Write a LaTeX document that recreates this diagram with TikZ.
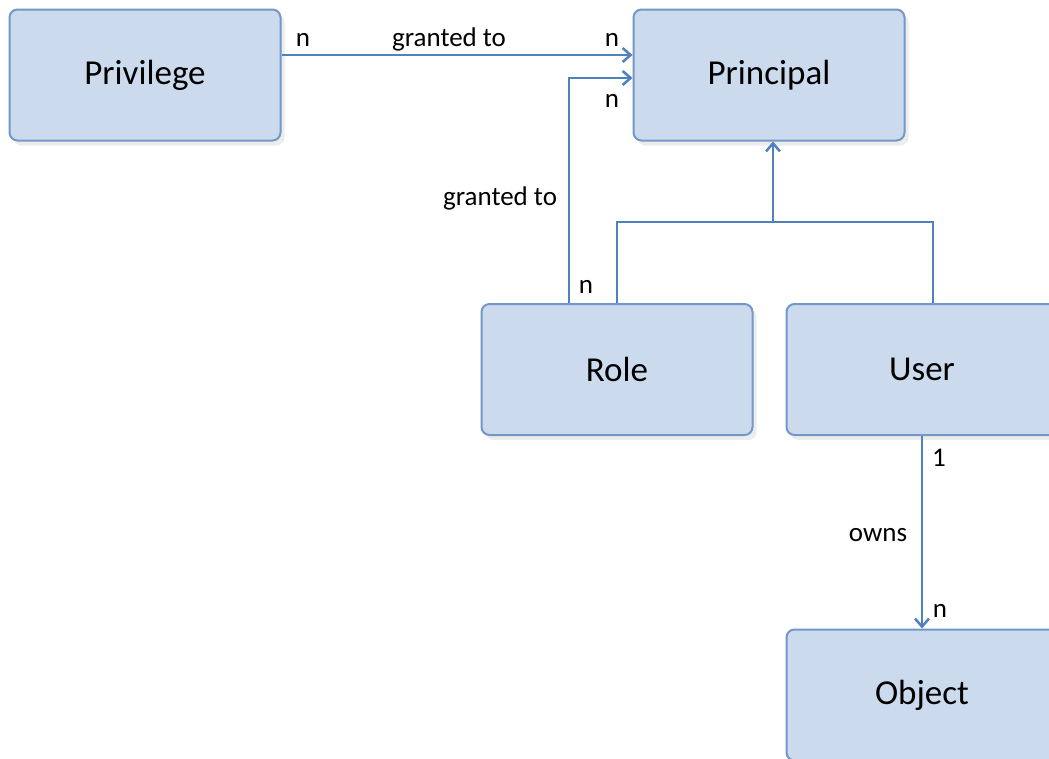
\documentclass[tikz,border=0pt]{standalone}
\usepackage{fontspec}
\setmainfont{Carlito}
\usetikzlibrary{arrows.meta,shadows}
\definecolor{boxfill}{HTML}{CCDAEE}
\definecolor{boxline}{HTML}{7397C9}
\definecolor{linkline}{HTML}{4F81BD}
\tikzset{entity/.style={draw=boxline, line width=2pt, fill=boxfill,
    rounded corners=8pt, minimum width=271pt, minimum height=131pt,
    font=\fontsize{35}{40}\selectfont,
    drop shadow={opacity=0.15, shadow xshift=4pt, shadow yshift=-5pt}},
  link/.style={draw=linkline, line width=2.5pt},
  card/.style={font=\fontsize{27}{30}\selectfont}}

\begin{document}
\begin{tikzpicture}[x=1pt, y=-1pt, >={Straight Barb[length=8pt, width=14pt, line width=2.5pt]}]
  \useasboundingbox (0,0) rectangle (1049,758);
  \node[entity] (privilege) at (145,75) {Privilege};
  \node[entity] (principal) at (769,75) {Principal};
  \node[entity] (role) at (617,369.5) {Role};
  \node[entity] (user) at (922,369.5) {User};
  \node[entity] (object) at (922,695) {Object};
  % granted to
  \draw[link,->] (privilege.east |- 0,55) -- (principal.west |- 0,55);
  \node[card] at (303,40) {n};
  \node[card] at (449,39) {granted to};
  \node[card] at (612,40) {n};
  \draw[link,->] (role.north -| 569,0) |- (principal.west |- 0,78);
  \node[card] at (586,287) {n};
  \node[card] at (500,198) {granted to};
  \node[card] at (612,101) {n};
  % is a
  \coordinate (isa) at (773,222);
  \draw[link] (role.north) |- (isa) -| (user.north -| 933,0);
  \draw[link,->] (isa) -- (principal.south -| isa);
  % owns
  \draw[link,->] (user.south) -- (object.north);
  \node[card] at (939,458) {1};
  \node[card] at (878,535) {owns};
  \node[card] at (940,611) {n};
\end{tikzpicture}
\end{document}
